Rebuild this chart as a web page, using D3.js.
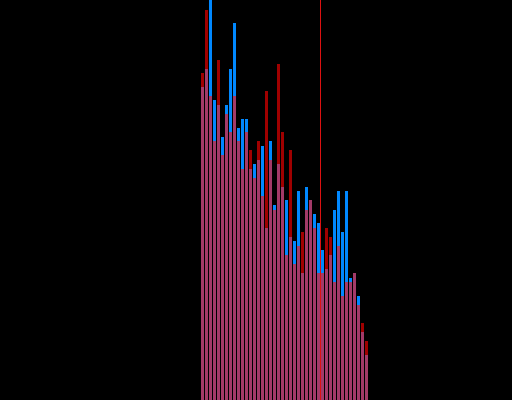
<!DOCTYPE html>
<html>
<head>
<meta charset="utf-8">
<script src="https://cdn.jsdelivr.net/npm/d3@7"></script>
<style>
  html, body { margin: 0; padding: 0; background: #000; }
  svg { display: block; }
</style>
</head>
<body>
<div id="chart"></div>
<script>
// Bin indices (42 bins)
const bins = d3.range(42);
// Series A (red)
const redValues = [327, 390, 304, 259, 340, 245, 286, 268, 304, 259, 231, 268, 250, 222, 259, 204, 309, 240, 190, 336, 268, 145,
                   250, 136, 154, 168, 190, 200, 172, 127, 127, 172, 163, 118, 154, 104, 118, 118, 127, 95, 77, 59];
// Series B (blue)
const blueValues = [313, 331, 420, 300, 295, 263, 295, 331, 377, 272, 281, 281, 231, 236, 240, 254, 172, 259, 195, 236, 213, 200,
                    163, 159, 209, 127, 213, 200, 186, 177, 150, 131, 145, 190, 209, 168, 209, 122, 127, 104, 68, 45];
// Reference marker (in bin units)
const markerValue = [29.8];

const W = 512, H = 400;
const svg = d3.select("#chart").append("svg").attr("width", W).attr("height", H);
svg.append("rect").attr("width", W).attr("height", H).attr("fill", "#000");

const x = d3.scaleLinear().domain([0, 42]).range([201, 369]);
const y = d3.scaleLinear().domain([0, 400]).range([H, 0]);
const bw = 3;

const g = svg.append("g");
const data = bins.map(i => ({ i, r: redValues[i], b: blueValues[i] }));

// tallest-series bar first
g.selectAll("rect.max").data(data).join("rect")
  .attr("x", d => x(d.i)).attr("width", bw)
  .attr("y", d => y(Math.max(d.r, d.b)))
  .attr("height", d => H - y(Math.max(d.r, d.b)))
  .attr("fill", d => d.r >= d.b ? "#a00000" : "#0088ff");

// overlap portion
g.selectAll("rect.min").data(data).join("rect")
  .attr("x", d => x(d.i)).attr("width", bw)
  .attr("y", d => y(Math.min(d.r, d.b)))
  .attr("height", d => H - y(Math.min(d.r, d.b)))
  .attr("fill", "#a33a68");

svg.selectAll("line.marker").data(markerValue).join("line")
  .attr("x1", d => Math.floor(x(d)) + 0.5).attr("x2", d => Math.floor(x(d)) + 0.5)
  .attr("y1", 0).attr("y2", H)
  .attr("stroke", "#dd1111").attr("stroke-width", 1);
</script>
</body>
</html>
